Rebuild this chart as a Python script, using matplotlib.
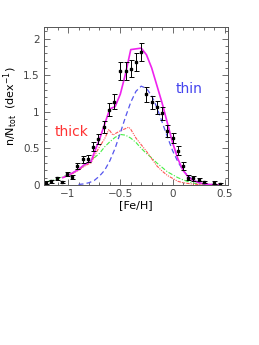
import matplotlib
matplotlib.use("Agg")
import matplotlib.pyplot as plt
from matplotlib.ticker import MultipleLocator

# observed distribution (points with error bars)
feh = [-1.21, -1.16, -1.11, -1.06, -1.01, -0.96, -0.91, -0.86, -0.81, -0.76,
       -0.71, -0.66, -0.61, -0.56, -0.50, -0.45, -0.40, -0.35, -0.30, -0.25,
       -0.20, -0.15, -0.10, -0.05, 0.00, 0.05, 0.10, 0.15, 0.20, 0.25,
       0.30, 0.40, 0.45]
frac = [0.03, 0.05, 0.09, 0.04, 0.15, 0.11, 0.26, 0.35, 0.36, 0.52,
        0.63, 0.79, 1.03, 1.14, 1.56, 1.56, 1.59, 1.68, 1.82, 1.24,
        1.13, 1.06, 0.98, 0.74, 0.64, 0.47, 0.26, 0.10, 0.09, 0.07,
        0.04, 0.03, 0.015]
err = [0.02, 0.02, 0.02, 0.02, 0.03, 0.03, 0.04, 0.05, 0.05, 0.06,
       0.07, 0.08, 0.09, 0.10, 0.12, 0.12, 0.12, 0.12, 0.12, 0.10,
       0.09, 0.09, 0.09, 0.08, 0.07, 0.06, 0.05, 0.03, 0.03, 0.02,
       0.02, 0.02, 0.01]

# model curves
x_thin = [-0.90, -0.85, -0.80, -0.75, -0.70, -0.65, -0.60, -0.55, -0.50, -0.45,
          -0.40, -0.35, -0.30, -0.25, -0.20, -0.15, -0.10, -0.05, 0.00, 0.05,
          0.10, 0.15, 0.20, 0.25, 0.30, 0.35, 0.40, 0.45]
thin = [0.006, 0.014, 0.03, 0.06, 0.12, 0.20, 0.33, 0.50, 0.71, 0.93,
        1.13, 1.28, 1.35, 1.32, 1.22, 1.06, 0.86, 0.66, 0.47, 0.32,
        0.20, 0.12, 0.067, 0.035, 0.017, 0.008, 0.003, 0.001]

x_green = [-1.20, -1.15, -1.10, -1.05, -1.00, -0.95, -0.90, -0.85, -0.80, -0.75,
           -0.70, -0.65, -0.60, -0.55, -0.50, -0.45, -0.40, -0.35, -0.30, -0.25,
           -0.20, -0.15, -0.10, -0.05, 0.00, 0.05, 0.10, 0.15, 0.20, 0.25,
           0.30, 0.35, 0.40]
green = [0.045, 0.06, 0.08, 0.11, 0.14, 0.17, 0.21, 0.26, 0.31, 0.37,
         0.43, 0.52, 0.59, 0.65, 0.69, 0.68, 0.64, 0.58, 0.50, 0.43,
         0.37, 0.30, 0.24, 0.18, 0.14, 0.10, 0.07, 0.045, 0.025, 0.013,
         0.007, 0.004, 0.002]

x_thick = [-1.05, -1.00, -0.95, -0.90, -0.85, -0.80, -0.78, -0.75, -0.70, -0.65,
           -0.61, -0.57, -0.55, -0.50, -0.45, -0.42, -0.40, -0.35, -0.30, -0.25,
           -0.20, -0.15, -0.10, -0.05, 0.00, 0.05, 0.10, 0.15, 0.20, 0.25, 0.30]
thick = [0.10, 0.13, 0.16, 0.20, 0.25, 0.29, 0.30, 0.39, 0.52, 0.63,
         0.76, 0.68, 0.70, 0.74, 0.77, 0.79, 0.76, 0.64, 0.55, 0.46,
         0.36, 0.26, 0.19, 0.13, 0.09, 0.05, 0.03, 0.02, 0.01, 0.005, 0.002]

x_total = [-1.05, -1.00, -0.95, -0.90, -0.85, -0.80, -0.78, -0.75, -0.70, -0.65,
           -0.60, -0.55, -0.50, -0.45, -0.40, -0.35, -0.30, -0.25, -0.20, -0.15,
           -0.10, -0.05, 0.00, 0.05, 0.10, 0.15, 0.20, 0.25, 0.30, 0.35, 0.40, 0.45]
total = [0.10, 0.13, 0.17, 0.21, 0.27, 0.31, 0.32, 0.44, 0.62, 0.83,
         1.04, 1.07, 1.24, 1.52, 1.85, 1.86, 1.87, 1.78, 1.60, 1.36,
         1.12, 0.85, 0.58, 0.36, 0.20, 0.11, 0.06, 0.03, 0.015, 0.007, 0.003, 0.001]

fig = plt.figure(figsize=(2.59, 3.45), dpi=100)
ax = fig.add_axes([0.170, 0.464, 0.710, 0.458])

ax.plot(x_green, green, color="#44ee44", lw=0.8, ls=(0, (4, 1.5, 1, 1.5)))
ax.plot(x_thick, thick, color="#ff5555", lw=0.8, ls=(0, (3, 1, 1, 1, 1, 1)))
ax.plot(x_thin, thin, color="#5555ee", lw=0.9, ls=(0, (4, 2.5)))
ax.plot(x_total, total, color="#ee22ee", lw=1.2)
ax.errorbar(feh, frac, yerr=err, fmt="s", color="black", ms=1.5,
            elinewidth=0.7, capsize=1.8, capthick=0.7)

ax.text(-1.13, 0.73, "thick", color="#ff3333", fontsize=10, va="center")
ax.text(0.03, 1.31, "thin", color="#4444ee", fontsize=10, va="center")

ax.set_xlim(-1.23, 0.53)
ax.set_ylim(0, 2.16)
ax.xaxis.set_major_locator(MultipleLocator(0.5))
ax.xaxis.set_minor_locator(MultipleLocator(0.1))
ax.yaxis.set_major_locator(MultipleLocator(0.5))
ax.yaxis.set_minor_locator(MultipleLocator(0.1))
ax.set_xticks([-1, -0.5, 0, 0.5])
ax.set_xticklabels(["\u22121", "\u22120.5", "0", "0.5"])
ax.set_yticks([0, 0.5, 1, 1.5, 2])
ax.set_yticklabels(["0", "0.5", "1", "1.5", "2"])
ax.tick_params(which="both", direction="in", top=True, right=True,
               colors="#555555", labelcolor="#444444", labelsize=7.5, width=0.6)
ax.tick_params(which="major", length=4, pad=3)
ax.tick_params(which="minor", length=2)
for s in ax.spines.values():
    s.set_color("#555555")
    s.set_linewidth(0.7)

ax.set_xlabel("[Fe/H]", fontsize=8, labelpad=1)
ax.set_ylabel(r"n/N$_{\rm tot}$  (dex$^{-1}$)", fontsize=8, labelpad=2)

fig.savefig("out.png", dpi=100)
